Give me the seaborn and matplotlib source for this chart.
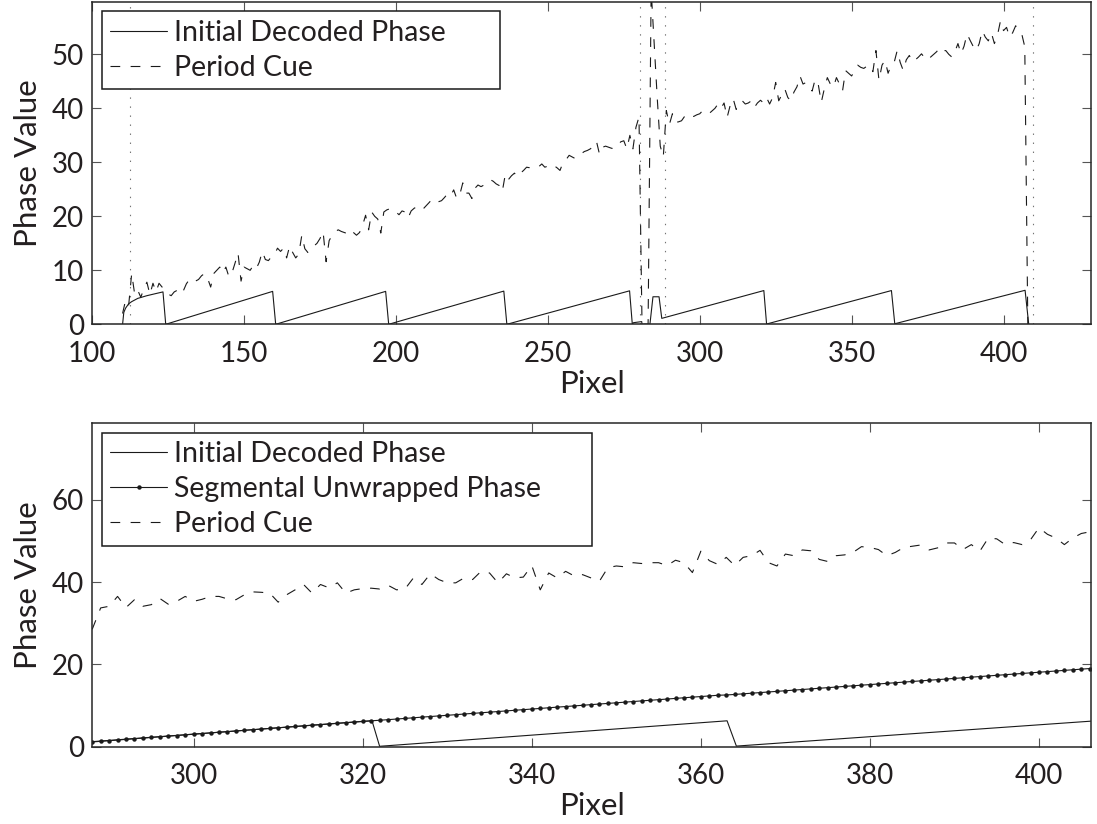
import matplotlib
matplotlib.use("Agg")
import matplotlib.pyplot as plt
import seaborn as sns
import pandas as pd

# ---------------- data ----------------
# wrapped phase ("Initial Decoded Phase"), polyline vertices
wrap_x = [110.0, 110.4, 111.0, 112.0, 113.0, 115.0, 118.0, 121.0, 123.3, 124.2,
          159.4, 160.4, 196.6, 197.6, 235.5, 236.5, 276.9, 277.8, 278.2, 280.9,
          281.0, 283.6, 284.6, 286.6, 287.5, 321.1, 322.0, 363.1, 364.2, 407.1, 408.3]
wrap_y = [0.0, 2.2, 3.0, 3.8, 4.2, 4.8, 5.3, 5.7, 6.0, 0.0,
          6.1, 0.0, 6.1, 0.0, 6.15, 0.0, 6.2, 0.0, 0.3, 0.5,
          0.0, 0.0, 5.1, 5.1, 1.1, 6.25, 0.05, 6.25, 0.1, 6.3, 0.0]

# period cue, top panel, pixel 110..408
cue_top_x = list(range(110, 409))
cue_top = [
    2.0, 4.5, 3.5, 9.4, 5.5, 6.3, 5.0, 6.6, 7.8, 5.5,
    7.6, 6.0, 7.6, 6.9, 6.5, 5.6, 5.3, 6.0, 6.3, 6.9,
    6.2, 7.5, 8.3, 7.8, 8.0, 8.3, 9.0, 9.4, 8.5, 6.9,
    9.4, 10.0, 10.6, 9.5, 10.6, 8.8, 9.5, 11.3, 13.2, 8.0,
    10.6, 10.3, 10.0, 10.9, 10.3, 11.5, 13.5, 12.0, 11.8, 12.5,
    12.9, 14.1, 13.5, 14.1, 12.3, 14.5, 13.3, 12.3, 13.0, 16.5,
    14.0, 13.3, 14.2, 14.5, 15.0, 15.9, 17.2, 11.6, 15.5, 16.5,
    17.2, 17.5, 17.2, 17.0, 16.8, 17.5, 17.0, 16.5, 17.0, 18.3,
    20.2, 17.5, 20.8, 20.0, 19.5, 16.9, 20.8, 21.2, 21.4, 21.4,
    20.8, 20.3, 21.0, 20.8, 19.7, 21.0, 21.5, 21.8, 22.0, 21.4,
    22.0, 22.6, 23.3, 23.0, 22.7, 22.9, 23.5, 24.2, 23.8, 24.9,
    23.3, 24.0, 26.2, 24.3, 24.3, 23.3, 25.2, 25.8, 25.5, 25.8,
    26.2, 26.8, 26.5, 26.0, 25.7, 24.6, 27.8, 26.8, 27.5, 28.0,
    27.3, 28.0, 28.5, 29.1, 29.0, 28.8, 29.0, 29.2, 29.7, 29.1,
    29.3, 29.0, 29.4, 29.0, 28.5, 30.0, 30.5, 31.3, 31.0, 30.7,
    31.3, 31.6, 32.0, 32.2, 32.5, 33.0, 33.9, 31.5, 32.8, 33.0,
    32.8, 32.6, 32.5, 33.2, 33.8, 34.0, 32.5, 35.0, 32.5, 36.5,
    38.4, 0.0, 0.0, 0.0, 62.0, 52.0, 42.0, 33.0, 31.0, 39.6,
    37.0, 39.0, 37.4, 37.5, 37.7, 38.5, 39.0, 38.6, 38.5, 38.8,
    39.0, 39.6, 39.3, 39.0, 39.5, 40.0, 40.8, 40.0, 41.0, 38.3,
    40.5, 41.8, 39.8, 41.0, 41.4, 40.8, 41.0, 41.4, 40.2, 41.0,
    41.5, 41.0, 42.0, 40.8, 42.0, 44.8, 41.4, 42.5, 43.6, 42.0,
    41.4, 43.0, 44.0, 46.0, 44.5, 44.8, 44.0, 43.2, 45.4, 44.5,
    41.1, 43.6, 45.7, 44.5, 43.9, 45.7, 44.5, 43.2, 47.0, 46.5,
    46.0, 47.0, 48.0, 47.6, 47.4, 47.8, 48.0, 46.8, 50.7, 45.2,
    48.0, 48.9, 46.5, 48.0, 48.5, 50.7, 48.5, 47.0, 49.0, 49.8,
    48.6, 49.0, 49.5, 50.1, 49.4, 48.9, 49.5, 50.0, 50.5, 51.3,
    50.7, 50.7, 50.0, 49.5, 50.5, 52.0, 50.1, 51.5, 53.8, 52.6,
    51.5, 50.7, 52.0, 54.4, 53.2, 52.5, 54.0, 52.0, 53.5, 56.2,
    54.4, 55.0, 53.2, 54.0, 55.3, 54.4, 53.8, 51.4, 0.0,
]

# period cue, bottom panel, pixel 288..408
cue_bot_x = list(range(288, 409))
cue_bot = [
    28.5, 33.7, 34.1, 36.5, 33.8, 35.7, 34.1, 34.5, 36.0, 34.6,
    35.3, 36.5, 35.3, 35.8, 36.5, 36.5, 35.9, 35.7, 36.9, 37.6,
    37.5, 37.3, 35.1, 36.9, 38.1, 39.4, 37.3, 39.4, 38.6, 39.8,
    37.3, 38.1, 38.4, 38.5, 38.3, 39.2, 38.1, 38.3, 41.0, 39.4,
    42.0, 40.6, 39.8, 39.8, 41.0, 40.6, 42.6, 42.2, 39.8, 42.0,
    41.0, 41.2, 44.0, 38.1, 42.2, 41.0, 42.6, 41.5, 41.8, 41.0,
    40.2, 43.5, 43.9, 43.7, 44.7, 44.5, 44.7, 44.7, 44.0, 45.3,
    44.7, 42.3, 47.5, 45.2, 44.3, 46.0, 44.0, 46.0, 46.4, 47.7,
    44.7, 43.9, 46.8, 46.4, 47.8, 47.6, 45.5, 45.0, 46.4, 46.6,
    47.2, 48.6, 48.4, 47.9, 46.4, 47.2, 48.4, 48.7, 49.0, 47.8,
    48.3, 49.5, 49.5, 47.9, 49.1, 47.5, 50.7, 50.5, 49.1, 49.6,
    49.1, 50.3, 53.2, 51.6, 50.7, 49.1, 50.7, 51.8, 52.2, 52.0, 0.0,
]

# segmental unwrapped phase, pixel 288..406
unwrap_x = list(range(288, 407))
unwrap = [
    1.10, 1.26, 1.41, 1.57, 1.73, 1.89, 2.04, 2.20, 2.36, 2.51,
    2.67, 2.83, 2.99, 3.14, 3.30, 3.46, 3.61, 3.77, 3.93, 4.09,
    4.24, 4.40, 4.56, 4.71, 4.87, 5.03, 5.19, 5.34, 5.50, 5.66,
    5.81, 5.97, 6.13, 6.25, 6.38, 6.53, 6.68, 6.83, 6.98, 7.14,
    7.29, 7.44, 7.59, 7.74, 7.90, 8.05, 8.20, 8.35, 8.50, 8.66,
    8.81, 8.96, 9.11, 9.26, 9.42, 9.57, 9.72, 9.87, 10.02, 10.18,
    10.33, 10.48, 10.63, 10.78, 10.94, 11.09, 11.24, 11.39, 11.54, 11.70,
    11.85, 12.00, 12.15, 12.30, 12.46, 12.53, 12.66, 12.81, 12.96, 13.11,
    13.26, 13.41, 13.56, 13.71, 13.86, 14.01, 14.16, 14.31, 14.46, 14.61,
    14.76, 14.91, 15.06, 15.21, 15.36, 15.51, 15.66, 15.81, 15.96, 16.11,
    16.26, 16.41, 16.56, 16.71, 16.86, 17.01, 17.16, 17.31, 17.46, 17.61,
    17.76, 17.91, 18.06, 18.21, 18.36, 18.51, 18.66, 18.81, 18.96,
]

# segment boundaries (dotted verticals in the top panel)
seg_bounds = [112.5, 280.2, 288.4, 409.6]

top_xticks = [100, 150, 200, 250, 300, 350, 400]
top_yticks = [0, 10, 20, 30, 40, 50]
bot_xticks = [300, 320, 340, 360, 380, 400]
bot_yticks = [0, 20, 40, 60]

# ---------------- style ----------------
sns.set_theme(style="white")
TXT = "#231f20"
plt.rcParams.update({
    "axes.edgecolor": "#262626",
    "axes.linewidth": 1.1,
    "xtick.direction": "in",
    "ytick.direction": "in",
    "xtick.top": True,
    "ytick.right": True,
    "xtick.bottom": True,
    "ytick.left": True,
    "xtick.major.size": 6.5,
    "ytick.major.size": 6.5,
    "xtick.major.width": 0.8,
    "ytick.major.width": 0.8,
    "xtick.color": "#555555",
    "ytick.color": "#555555",
    "xtick.labelcolor": TXT,
    "ytick.labelcolor": TXT,
    "xtick.labelsize": 20,
    "ytick.labelsize": 20,
    "xtick.major.pad": 12,
    "ytick.major.pad": 6,
    "axes.labelsize": 22.5,
    "axes.labelcolor": TXT,
    "lines.scale_dashes": False,
    "legend.numpoints": 1,
})
plt.rcParams["font.family"] = ["Lato", "DejaVu Sans"]

LW = 0.8
CUE_LS = (0, (7, 7.5))
DOT_LS = (0, (1, 5.5))

fig = plt.figure(figsize=(10.97, 8.24), dpi=100)
ax1 = fig.add_axes([0.08405, 0.60643, 0.91048, 0.39114])
ax2 = fig.add_axes([0.08405, 0.09405, 0.91048, 0.39224])

df_wrap = pd.DataFrame({"x": wrap_x, "y": wrap_y})
df_cue_top = pd.DataFrame({"x": cue_top_x, "y": cue_top})
df_cue_bot = pd.DataFrame({"x": cue_bot_x, "y": cue_bot})
df_unwrap = pd.DataFrame({"x": unwrap_x, "y": unwrap})

# ---- top panel ----
sns.lineplot(data=df_wrap, x="x", y="y", ax=ax1, color="k", lw=LW,
             estimator=None, sort=False, label="Initial Decoded Phase")
sns.lineplot(data=df_cue_top, x="x", y="y", ax=ax1, color="k", lw=LW,
             linestyle=CUE_LS, estimator=None, sort=False, label="Period Cue")
for b in seg_bounds:
    ax1.axvline(b, color="0.45", lw=LW, linestyle=DOT_LS, zorder=1)
ax1.set_xlim(100, 428.8)
ax1.set_ylim(0, 59.7)
ax1.set_xticks(top_xticks)
ax1.set_yticks(top_yticks)
ax1.set_xlabel("Pixel", labelpad=2)
ax1.set_ylabel("Phase Value", labelpad=7)

# ---- bottom panel ----
sns.lineplot(data=df_wrap, x="x", y="y", ax=ax2, color="k", lw=LW,
             estimator=None, sort=False, label="Initial Decoded Phase")
sns.lineplot(data=df_unwrap, x="x", y="y", ax=ax2, color="k", lw=LW,
             marker="o", markersize=3.2, markeredgewidth=0,
             estimator=None, sort=False, label="Segmental Unwrapped Phase")
sns.lineplot(data=df_cue_bot, x="x", y="y", ax=ax2, color="k", lw=LW,
             linestyle=CUE_LS, estimator=None, sort=False, label="Period Cue")
ax2.set_xlim(288, 406.15)
ax2.set_ylim(0, 78.6)
ax2.set_xticks(bot_xticks)
ax2.set_yticks(bot_yticks)
ax2.set_xlabel("Pixel", labelpad=2)
ax2.set_ylabel("Phase Value", labelpad=7)

for ax, w in ((ax1, 0.3985), (ax2, 0.4906)):
    top = 0.972 if ax is ax1 else 0.971
    leg = ax.legend(loc="upper left", bbox_to_anchor=(0.0095, 0.0, w, top),
                    mode="expand", borderaxespad=0, frameon=True, fancybox=False,
                    edgecolor="k", framealpha=1, facecolor="white", fontsize=20.5,
                    handlelength=2.0, handletextpad=0.24, borderpad=0.3,
                    labelspacing=0.32)
    leg.get_frame().set_linewidth(1.1)
    for t in leg.get_texts():
        t.set_color(TXT)

fig.savefig("out.png", dpi=100)
